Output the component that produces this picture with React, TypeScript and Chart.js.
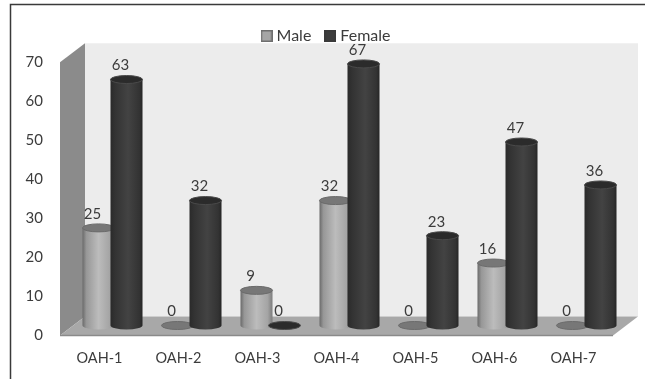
import React, { useEffect, useRef } from "react";
import { Chart, registerables } from "chart.js";

Chart.register(...registerables);

const categories = ["OAH-1", "OAH-2", "OAH-3", "OAH-4", "OAH-5", "OAH-6", "OAH-7"];
const maleValues = [25, 0, 9, 32, 0, 16, 0];
const femaleValues = [63, 32, 0, 67, 23, 47, 36];

const FONT = 'Lato, sans-serif';
const TEXT = "#3c3c3c";

// Depth of the pseudo-3D box, and where the cylinders stand inside it.
const WALL_DX = 25;
const WALL_DY = -19;
const BAR_DX = 13;
const BAR_DY = -10;
const TOP_RY = 4;

const palettes = [
  {
    stops: [[0, "#6a6a6a"], [0.12, "#979797"], [0.5, "#bcbcbc"], [0.85, "#a4a4a4"], [1, "#7c7c7c"]],
    cap: "#777777",
    edge: "#6b6b6b",
  },
  {
    stops: [[0, "#2a2a2a"], [0.15, "#333333"], [0.55, "#434343"], [0.9, "#333333"], [1, "#262626"]],
    cap: "#2b2b2b",
    edge: "#4a4a4a",
  },
] as const;

function marker(fill: string, stroke: string) {
  const c = document.createElement("canvas");
  c.width = 12;
  c.height = 12;
  const g = c.getContext("2d")!;
  g.fillStyle = fill;
  g.fillRect(0, 0, 12, 12);
  g.strokeStyle = stroke;
  g.lineWidth = 1.5;
  g.strokeRect(0.75, 0.75, 10.5, 10.5);
  return c;
}

const boxPlugin = {
  id: "box3d",
  // The narrow y box would otherwise clip its tick labels, which overhang to the left.
  afterLayout(chart: any) {
    chart.scales.y.left = 0;
  },
  beforeDraw(chart: any) {
    const { ctx, width, height } = chart;
    ctx.save();
    ctx.fillStyle = "#ffffff";
    ctx.fillRect(0, 0, width, height);
    ctx.strokeStyle = "#3a3a3a";
    ctx.lineWidth = 1.5;
    ctx.beginPath();
    ctx.moveTo(10.5, height);
    ctx.lineTo(10.5, 4.5);
    ctx.lineTo(width, 4.5);
    ctx.stroke();
    ctx.restore();
  },
  beforeDatasetsDraw(chart: any) {
    const { ctx, chartArea: a } = chart;
    const poly = (pts: number[][], fill: any) => {
      ctx.fillStyle = fill;
      ctx.beginPath();
      pts.forEach(([x, y], i) => (i ? ctx.lineTo(x, y) : ctx.moveTo(x, y)));
      ctx.closePath();
      ctx.fill();
    };
    ctx.save();
    poly(
      [
        [a.left + WALL_DX, a.top + WALL_DY],
        [a.right + WALL_DX, a.top + WALL_DY],
        [a.right + WALL_DX, a.bottom + WALL_DY],
        [a.left + WALL_DX, a.bottom + WALL_DY],
      ],
      "#ececec",
    );
    poly(
      [
        [a.left, a.top],
        [a.left + WALL_DX, a.top + WALL_DY],
        [a.left + WALL_DX, a.bottom + WALL_DY],
        [a.left, a.bottom],
      ],
      "#8b8b8b",
    );
    poly(
      [
        [a.left, a.bottom],
        [a.left + WALL_DX, a.bottom + WALL_DY],
        [a.right + WALL_DX, a.bottom + WALL_DY],
        [a.right, a.bottom],
      ],
      "#a8a8a8",
    );
    ctx.strokeStyle = "#8a8a8a";
    ctx.lineWidth = 1.5;
    ctx.beginPath();
    ctx.moveTo(a.left, a.bottom);
    ctx.lineTo(a.right, a.bottom);
    ctx.stroke();
    ctx.restore();
  },
  afterDatasetsDraw(chart: any) {
    const { ctx } = chart;
    ctx.save();
    chart.data.datasets.forEach((ds: any, di: number) => {
      const pal = palettes[di];
      chart.getDatasetMeta(di).data.forEach((bar: any, i: number) => {
        const cx = bar.x + BAR_DX;
        const rx = bar.width / 2;
        const top = bar.y + BAR_DY;
        const base = bar.base + BAR_DY;
        if (ds.data[i] > 0) {
          const grad = ctx.createLinearGradient(cx - rx, 0, cx + rx, 0);
          pal.stops.forEach(([o, c]: any) => grad.addColorStop(o, c));
          ctx.fillStyle = grad;
          ctx.beginPath();
          ctx.moveTo(cx - rx, top);
          ctx.lineTo(cx - rx, base);
          ctx.ellipse(cx, base, rx, TOP_RY, 0, Math.PI, 0, true);
          ctx.lineTo(cx + rx, top);
          ctx.closePath();
          ctx.fill();
        }
        ctx.fillStyle = pal.cap;
        ctx.strokeStyle = pal.edge;
        ctx.lineWidth = 1;
        ctx.beginPath();
        ctx.ellipse(cx, top, rx, TOP_RY, 0, 0, Math.PI * 2);
        ctx.fill();
        ctx.stroke();
      });
    });
    // Value labels sit above each cylinder, a little to its left.
    ctx.fillStyle = TEXT;
    ctx.font = `15px ${FONT}`;
    ctx.textAlign = "center";
    ctx.textBaseline = "middle";
    chart.data.datasets.forEach((ds: any, di: number) => {
      chart.getDatasetMeta(di).data.forEach((bar: any, i: number) => {
        ctx.fillText(String(ds.data[i]), bar.x + BAR_DX - 6, bar.y + BAR_DY - 14);
      });
    });
    ctx.restore();
  },
};

export default function App() {
  const ref = useRef<HTMLCanvasElement>(null);

  useEffect(() => {
    const markers = [marker("#a6a6a6", "#6e6e6e"), marker("#3d3d3d", "#3a3a3a")];
    const chart = new Chart(ref.current!, {
      type: "bar",
      data: {
        labels: categories,
        datasets: [
          { label: "Male", data: maleValues, backgroundColor: "transparent", categoryPercentage: 0.709, barPercentage: 1.143 },
          { label: "Female", data: femaleValues, backgroundColor: "transparent", categoryPercentage: 0.709, barPercentage: 1.143 },
        ],
      },
      options: {
        responsive: false,
        animation: false,
        layout: { padding: { top: 11, left: 42, right: 32, bottom: 0 } },
        plugins: {
          tooltip: { enabled: false },
          // An empty title is only a spacer between the legend and the plot.
          title: { display: true, text: "", weight: 500, font: { size: 1 }, padding: { top: 7, bottom: 0 } },
          legend: {
            position: "top",
            weight: 1000,
            labels: {
              color: TEXT,
              font: { family: FONT, size: 16 },
              padding: 17,
              usePointStyle: true,
              pointStyleWidth: 4,
              generateLabels: (c: any) =>
                c.data.datasets.map((d: any, i: number) => ({
                  text: d.label,
                  datasetIndex: i,
                  pointStyle: markers[i],
                  fontColor: TEXT,
                  lineWidth: 0,
                  hidden: false,
                })),
            },
          },
        },
        scales: {
          x: {
            afterFit: (s: any) => {
              s.height = 43.5;
            },
            grid: { display: false, drawTicks: false },
            border: { display: false },
            ticks: { color: TEXT, font: { family: FONT, size: 14.5 }, padding: 14, maxRotation: 0 },
          },
          y: {
            min: 0,
            max: 70,
            afterFit: (s: any) => {
              s.width = 18;
            },
            grid: { display: false, drawTicks: false },
            border: { display: false },
            ticks: { stepSize: 10, color: TEXT, font: { family: FONT, size: 15 }, padding: 17 },
          },
        },
      },
      plugins: [boxPlugin],
    });
    return () => chart.destroy();
  }, []);

  return (
    <div style={{ position: "absolute", left: 0, top: 0 }}>
      <canvas ref={ref} width={645} height={379} style={{ display: "block" }} />
    </div>
  );
}
